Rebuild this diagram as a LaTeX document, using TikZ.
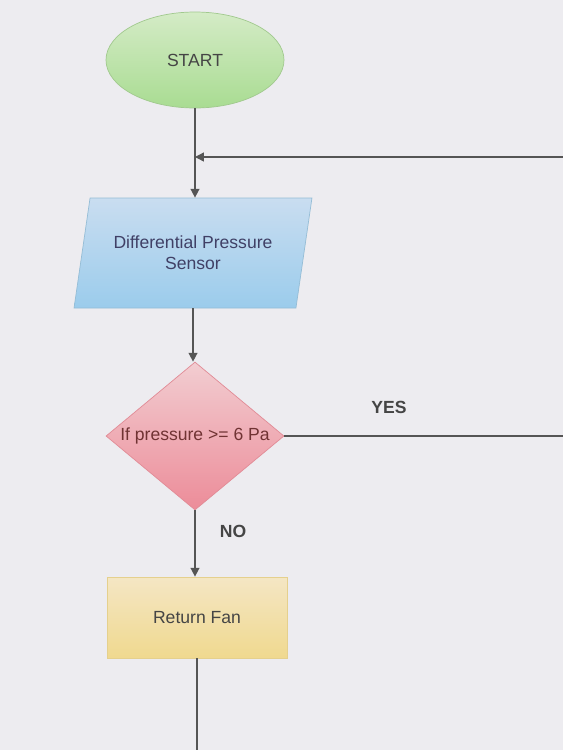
\documentclass[tikz,border=0pt]{standalone}
\usepackage{fontspec}
\setmainfont{Liberation Sans}
\usetikzlibrary{shapes.geometric,arrows.meta}
\definecolor{paper}{HTML}{EDECF0}
\definecolor{wire}{HTML}{555555}
\definecolor{txt}{HTML}{454545}
\definecolor{greentop}{HTML}{D4EBC6}
\definecolor{greenbot}{HTML}{A9DC92}
\definecolor{bluetop}{HTML}{C9DDF0}
\definecolor{bluebot}{HTML}{9BCCEC}
\definecolor{redtop}{HTML}{F2CDD1}
\definecolor{redbot}{HTML}{EC8C99}
\definecolor{yeltop}{HTML}{F4E6C4}
\definecolor{yelbot}{HTML}{F0D98F}
\begin{document}
\begin{tikzpicture}[
    every node/.style={font=\fontsize{10}{12}\selectfont, text=txt},
    wire/.style={draw=wire, line width=0.8pt},
    arrowwire/.style={wire, -{Triangle[length=5pt,width=5pt]}},
    startbox/.style={ellipse, inner sep=0pt, minimum width=3.56cm, minimum height=1.92cm,
        draw=greenbot!80!gray, top color=greentop, bottom color=greenbot},
    iobox/.style={trapezium, trapezium left angle=70, trapezium right angle=110,
        trapezium stretches=true, inner sep=0pt, minimum width=4.76cm, minimum height=2.2cm,
        draw=bluebot!80!gray, top color=bluetop, bottom color=bluebot,
        align=center, text=blue!20!black!75},
    decbox/.style={diamond, aspect=1.2, inner sep=0pt, minimum width=3.56cm, minimum height=2.96cm,
        draw=redbot!90!gray, top color=redtop, bottom color=redbot, text=red!30!black!80},
    procbox/.style={rectangle, inner sep=0pt, minimum width=3.6cm, minimum height=1.62cm,
        draw=yelbot!90!gray, top color=yeltop, bottom color=yelbot},
    lbl/.style={font=\bfseries\fontsize{10}{12}\selectfont, text=txt}
  ]
    \fill[paper] (0,0) rectangle (11.26,-15);
    \useasboundingbox (0,0) rectangle (11.26,-15);
    \node[startbox] (start) at (3.9,-1.2) {START};
    \node[iobox] (sensor) at (3.86,-5.06) {Differential Pressure\\Sensor};
    \node[decbox] (check) at (3.9,-8.72) {If pressure >= 6 Pa};
    \node[procbox] (fan) at (3.94,-12.35) {Return Fan};
    \coordinate (loopR) at (11.26,-3.14);
    \coordinate (loopL) at (3.9,-3.14);
    \coordinate (yesR) at (11.26,-8.68);
    \coordinate (bottom) at (3.94,-15);
    \draw[arrowwire] (start.south) -- (start.south |- sensor.north);
    \draw[arrowwire] (loopR) -- (loopL);
    \draw[arrowwire] (sensor.south) -- (sensor.south |- check.north);
    \draw[wire] (check.east) -- (check.east -| yesR);
    \node[lbl] (yes) at (7.78,-8.14) {YES};
    \draw[arrowwire] (check.south) -- (check.south |- fan.north);
    \node[lbl] (no) at (4.66,-10.62) {NO};
    \draw[wire] (fan.south) -- (bottom);
\end{tikzpicture}
\end{document}
